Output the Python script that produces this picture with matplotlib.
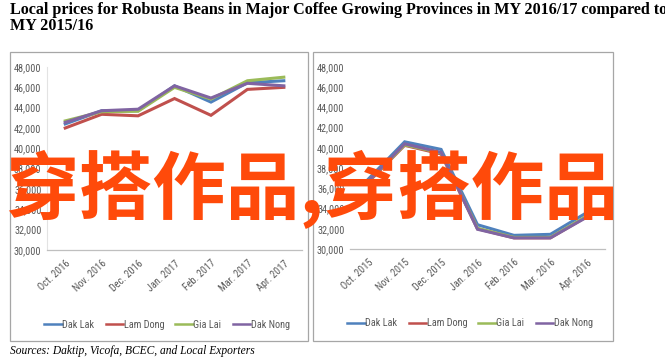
import matplotlib
matplotlib.use("Agg")
import matplotlib.pyplot as plt
from matplotlib import font_manager
from matplotlib.patches import Rectangle

# --------------------------------------------------------------
# Data
# --------------------------------------------------------------
provinces = ["Dak Lak", "Lam Dong", "Gia Lai", "Dak Nong"]
colors = ["#4F81BD", "#C0504D", "#9BBB59", "#8064A2"]

months_1617 = ["Oct. 2016", "Nov. 2016", "Dec. 2016", "Jan. 2017",
               "Feb. 2017", "Mar. 2017", "Apr. 2017"]
dak_lak_1617 = [42400, 43700, 43700, 46150, 44550, 46450, 46650]
lam_dong_1617 = [42000, 43350, 43200, 44900, 43250, 45800, 46000]
gia_lai_1617 = [42700, 43600, 43650, 46000, 44850, 46650, 47000]
dak_nong_1617 = [42550, 43700, 43850, 46150, 44950, 46400, 46150]

months_1516 = ["Oct. 2015", "Nov. 2015", "Dec. 2015", "Jan. 2016",
               "Feb. 2016", "Mar. 2016", "Apr. 2016"]
dak_lak_1516 = [36900, 40600, 39850, 32400, 31350, 31450, 33600]
lam_dong_1516 = [36600, 40250, 39400, 32000, 31100, 31100, 33200]
gia_lai_1516 = [36700, 40300, 39500, 32050, 31150, 31150, 33250]
dak_nong_1516 = [36700, 40400, 39550, 31950, 31100, 31100, 33150]

yticks = list(range(30000, 48001, 2000))

# a narrow face for the Excel-style axis text, if one is installed
names = {f.name for f in font_manager.fontManager.ttflist}
narrow_candidates = ["Liberation Sans Narrow", "Roboto Condensed",
                     "Open Sans Condensed", "DejaVu Sans Condensed"]
narrow_family = [n for n in narrow_candidates if n in names] or ["DejaVu Sans"]
narrow = font_manager.FontProperties(family=narrow_family[0],
                                     stretch="condensed", size=7.4)
tick_color = "#595959"

fig = plt.figure(figsize=(6.65, 3.59), dpi=100)


def draw_panel(rect, months, series, left_spine):
    ax = fig.add_axes(rect)
    for vals, name, c in zip(series, provinces, colors):
        ax.plot(range(len(months)), vals, color=c, lw=2.2, label=name,
                solid_joinstyle="miter")
    ax.set_xlim(-0.5, len(months) - 0.5)
    ax.set_ylim(30000, 48000)
    ax.set_yticks(yticks)
    ax.set_yticklabels([f"{v:,}" for v in yticks], fontproperties=narrow,
                       color=tick_color)
    ax.set_xticks(range(len(months)))
    ax.set_xticklabels(months, rotation=43, ha="right", rotation_mode="anchor",
                       fontproperties=narrow, color=tick_color)
    ax.tick_params(length=0, pad=4)
    ax.tick_params(axis="x", pad=6)
    for s in ["top", "right"]:
        ax.spines[s].set_visible(False)
    ax.spines["bottom"].set_color("#BFBFBF")
    ax.spines["bottom"].set_linewidth(0.9)
    if left_spine:
        ax.spines["left"].set_color("#E3E3E3")
        ax.spines["left"].set_linewidth(0.8)
    else:
        ax.spines["left"].set_visible(False)
    ax.patch.set_alpha(0)
    leg = ax.legend(loc="upper center", bbox_to_anchor=(0.47, -0.33), ncol=4,
                    frameon=False, handlelength=1.7, handletextpad=0.05,
                    columnspacing=1.1, prop=narrow)
    for line in leg.get_lines():
        line.set_linewidth(1.8)
    for t in leg.get_texts():
        t.set_color(tick_color)
    return ax


draw_panel([0.0707, 0.3036, 0.3835, 0.5097], months_1617,
           [dak_lak_1617, lam_dong_1617, gia_lai_1617, dak_nong_1617], True)
draw_panel([0.5263, 0.3064, 0.3835, 0.5070], months_1516,
           [dak_lak_1516, lam_dong_1516, gia_lai_1516, dak_nong_1516], False)

# panel frames
W, H = 665, 359
for x0, x1 in [(10, 308), (313, 613)]:
    fig.patches.append(Rectangle((x0 / W, 1 - 341 / H), (x1 - x0) / W,
                                 (341 - 52) / H, transform=fig.transFigure,
                                 fill=False, ec="#A6A6A6", lw=0.9))

# title
fig.text(10 / W, 1 - 2 / H,
         "Local prices for Robusta Beans in Major Coffee Growing Provinces in MY 2016/17 compared to\nMY 2015/16",
         ha="left", va="top", family="Liberation Serif", fontweight="bold",
         fontsize=11.6, linespacing=1.0)

# source
fig.text(10 / W, 1 - 351 / H, "Sources: Daktip, Vicofa, BCEC, and Local Exporters",
         ha="left", va="center", family="Liberation Serif", style="italic",
         fontsize=8.3)

# watermark overlay
fig.text(312 / W, 1 - 190 / H, "穿搭作品,穿搭作品", ha="center", va="center",
         family=["Noto Sans CJK SC", "DejaVu Sans"], fontweight="bold",
         fontsize=53, color="#FF4A0A", zorder=10)

fig.savefig("out.png", dpi=100)
